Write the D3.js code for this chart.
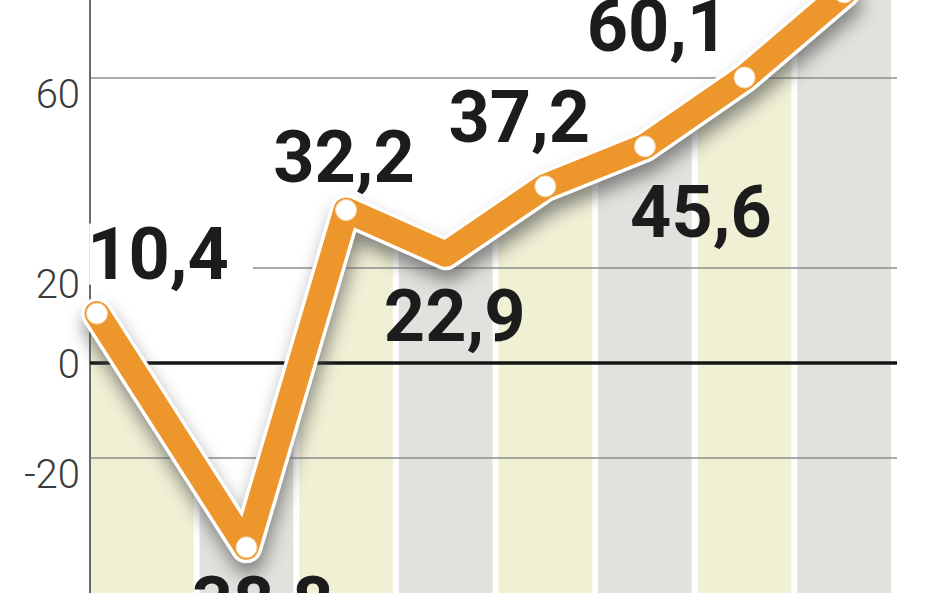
<!DOCTYPE html>
<html>
<head>
<meta charset="utf-8">
<script src="https://cdn.jsdelivr.net/npm/d3@7"></script>
<style>
  html, body { margin: 0; padding: 0; background: #fff; }
  svg { display: block; }
  .tick-label { font-family: Roboto, "Liberation Sans", sans-serif; font-weight: 300; font-size: 40px; fill: #3a3a3a; }
  .value-label { font-family: Roboto, "Liberation Sans", sans-serif; font-weight: 700; font-size: 72px; fill: #1c1c1c; }
</style>
</head>
<body>
<div id="chart"></div>
<script>
// data
var periods = ["1", "2", "3", "4", "5", "6", "7", "8"];
var values = [10.4, -38.8, 32.2, 22.9, 37.2, 45.6, 60.1, 78];
var valueLabels = ["10,4", "-38,8", "32,2", "22,9", "37,2", "45,6", "60,1", "78"];
var tickValues = [-20, 0, 20, 60];
var tickLabels = ["-20", "0", "20", "60"];

// layout: label offsets from their point, white box behind label
var labelLayout = [
  { dx: 61, dy: -35, box: true },
  { dx: 2, dy: 81 },
  { dx: -2, dy: -28 },
  { dx: 9, dy: 87 },
  { dx: -26, dy: -44 },
  { dx: 56, dy: 91 },
  { dx: -87, dy: -27 },
  { dx: 0, dy: -30 }
];

var svgWidth = 948;
var svgHeight = 593;
var axisX = 90;
var plotRight = 897;

var svg = d3.select("#chart")
  .append("svg")
  .attr("width", svgWidth)
  .attr("height", svgHeight);

svg.append("rect")
  .attr("width", svgWidth)
  .attr("height", svgHeight)
  .attr("fill", "#fff");

// scales
var yScale = d3.scaleLinear()
  .domain([0, 60])
  .range([363, 78]);

var xScale = d3.scaleBand()
  .domain(periods)
  .range([100, 891])
  .paddingInner(0.06)
  .paddingOuter(0);

var pts = values.map(function (v, i) {
  var x = i === 0 ? axisX + 7 : xScale(periods[i]) + xScale.bandwidth() / 2;
  return { x: x, y: yScale(v), v: v, label: valueLabels[i], i: i };
});

var defs = svg.append("defs");

// clip: everything below the line
var clipPts = [[axisX - 4, pts[0].y]].concat(pts.map(d => [d.x, d.y]));
var last = pts[pts.length - 1];
var prev = pts[pts.length - 2];
var slope = (last.y - prev.y) / (last.x - prev.x);
clipPts.push([svgWidth, last.y + slope * (svgWidth - last.x)]);

var area = d3.area()
  .x(d => d[0])
  .y0(svgHeight + 10)
  .y1(d => d[1]);

defs.append("clipPath")
  .attr("id", "below")
  .append("path")
  .attr("d", area(clipPts));

var blur = defs.append("filter")
  .attr("id", "shadow")
  .attr("x", "-20%").attr("y", "-20%")
  .attr("width", "140%").attr("height", "140%");
blur.append("feGaussianBlur").attr("stdDeviation", 9);

// alternating column bands
svg.append("g")
  .attr("clip-path", "url(#below)")
  .selectAll("rect")
  .data(periods)
  .enter()
  .append("rect")
  .attr("x", (d, i) => i === 0 ? axisX : xScale(d))
  .attr("width", (d, i) => i === 0 ? xScale(d) + xScale.bandwidth() - axisX : xScale.bandwidth())
  .attr("y", 0)
  .attr("height", svgHeight)
  .attr("fill", (d, i) => i % 2 === 0 ? "#f0f0d5" : "#e1e2dd");

// gridlines
svg.append("g")
  .selectAll("line")
  .data(tickValues.filter(d => d !== 0))
  .enter()
  .append("line")
  .attr("x1", axisX)
  .attr("x2", plotRight)
  .attr("y1", d => yScale(d))
  .attr("y2", d => yScale(d))
  .attr("stroke", "#8e8e8e")
  .attr("stroke-width", 1.6);

// y axis line
svg.append("line")
  .attr("x1", axisX).attr("x2", axisX)
  .attr("y1", 0).attr("y2", svgHeight)
  .attr("stroke", "#6a6a6a")
  .attr("stroke-width", 2);

// zero line
svg.append("line")
  .attr("x1", axisX)
  .attr("x2", plotRight)
  .attr("y1", yScale(0))
  .attr("y2", yScale(0))
  .attr("stroke", "#141414")
  .attr("stroke-width", 3.5);

// tick labels
var leftAxis = d3.axisLeft(yScale)
  .tickValues(tickValues)
  .tickSize(0)
  .tickPadding(10)
  .tickFormat((d, i) => tickLabels[i]);

var axisG = svg.append("g")
  .attr("transform", `translate(${axisX}, 0)`)
  .call(leftAxis);
axisG.select(".domain").remove();
axisG.selectAll("text")
  .attr("class", "tick-label")
  .attr("font-family", null)
  .attr("font-size", null)
  .attr("fill", null)
  .attr("dy", d => d === 0 ? "0.35em" : "0.74em");

var line = d3.line()
  .x(d => d.x)
  .y(d => d.y);

// soft shadow below the line
svg.append("path")
  .datum(pts)
  .attr("d", line)
  .attr("transform", "translate(2, 12)")
  .attr("fill", "none")
  .attr("stroke", "#555")
  .attr("stroke-width", 30)
  .attr("stroke-linejoin", "round")
  .attr("stroke-linecap", "round")
  .attr("opacity", 0.7)
  .attr("filter", "url(#shadow)");

// white halo
svg.append("path")
  .datum(pts)
  .attr("d", line)
  .attr("fill", "none")
  .attr("stroke", "#fff")
  .attr("stroke-width", 32)
  .attr("stroke-linejoin", "round")
  .attr("stroke-linecap", "round");

// orange line
svg.append("path")
  .datum(pts)
  .attr("d", line)
  .attr("fill", "none")
  .attr("stroke", "#ec962b")
  .attr("stroke-width", 25)
  .attr("stroke-linejoin", "round")
  .attr("stroke-linecap", "round");

// white markers (none drawn at the 4th point in the original)
svg.append("g")
  .selectAll("circle")
  .data(pts.filter(d => d.i !== 3))
  .enter()
  .append("circle")
  .attr("cx", d => d.x)
  .attr("cy", d => d.y)
  .attr("r", 10.5)
  .attr("fill", "#fff")
  .attr("stroke", "#f6d6a8")
  .attr("stroke-width", 1);

// value labels
var labelG = svg.append("g");
pts.forEach(function (d, i) {
  var lay = labelLayout[i];
  var lx = d.x + lay.dx;
  var ly = d.y + lay.dy;
  if (ly < 0) return;
  var t = labelG.append("text")
    .attr("class", "value-label")
    .attr("x", lx)
    .attr("y", ly)
    .attr("text-anchor", "middle")
    .text(d.label);
  if (lay.box) {
    var bb = t.node().getBBox();
    labelG.insert("rect", "text")
      .attr("x", bb.x + 2)
      .attr("y", bb.y + 12)
      .attr("width", bb.width + 22)
      .attr("height", bb.height - 24)
      .attr("fill", "#fff");
  }
});
</script>
</body>
</html>
